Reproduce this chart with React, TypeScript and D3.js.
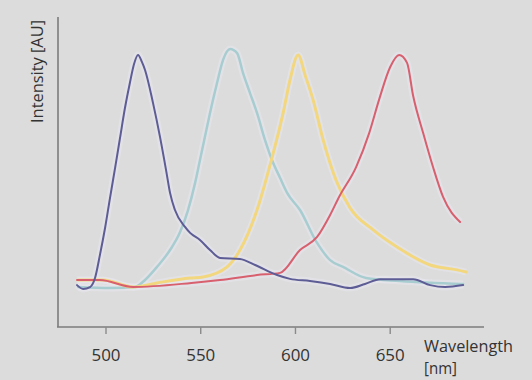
import { useEffect, useRef } from "react";
import * as d3 from "d3";

// wavelength [nm], intensity [AU]
const blueNm = [484.7, 487.9, 491.6, 494.2, 496.8, 499.5, 502.1, 504.8, 507.4, 510.0, 512.7, 514.8, 516.9, 519.0, 520.6, 524.8, 528.5, 531.7, 533.8, 536.4, 541.7, 544.4, 549.6, 554.9, 560.2, 570.7, 578.7, 590.3, 597.1, 607.7, 618.3, 628.8, 636.7, 644.7, 662.1, 671.1, 679.0, 688.5];
const blueI = [0.154, 0.140, 0.147, 0.180, 0.265, 0.364, 0.474, 0.585, 0.695, 0.805, 0.901, 0.967, 1.0, 0.974, 0.945, 0.824, 0.699, 0.577, 0.493, 0.430, 0.368, 0.346, 0.320, 0.283, 0.254, 0.250, 0.228, 0.191, 0.177, 0.169, 0.158, 0.143, 0.158, 0.176, 0.176, 0.154, 0.147, 0.154];

const tealNm = [485.2, 502.1, 515.3, 520.6, 526.9, 533.8, 539.1, 543.3, 547.0, 549.6, 552.3, 554.9, 558.6, 561.8, 565.5, 569.2, 572.3, 576.0, 579.7, 583.9, 587.6, 591.9, 595.6, 602.4, 611.4, 618.3, 625.1, 637.3, 655.2, 688.5];
const tealI = [0.147, 0.143, 0.147, 0.173, 0.221, 0.283, 0.349, 0.430, 0.529, 0.614, 0.702, 0.787, 0.897, 0.982, 1.022, 1.007, 0.934, 0.860, 0.787, 0.688, 0.614, 0.548, 0.493, 0.430, 0.309, 0.246, 0.221, 0.180, 0.169, 0.158];

const yellowNm = [485.2, 498.4, 514.3, 526.9, 544.4, 551.2, 563.9, 570.7, 579.7, 586.6, 593.5, 597.1, 601.4, 605.1, 609.3, 614.6, 621.4, 628.8, 641.0, 653.6, 671.1, 685.3, 690.1];
const yellowI = [0.173, 0.173, 0.147, 0.162, 0.180, 0.184, 0.221, 0.283, 0.430, 0.596, 0.787, 0.908, 1.0, 0.926, 0.835, 0.688, 0.540, 0.438, 0.357, 0.294, 0.228, 0.210, 0.202];

const redNm = [484.7, 496.8, 514.3, 545.1, 560.2, 579.7, 591.9, 602.4, 611.4, 618.3, 623.0, 632.0, 638.9, 644.1, 650.0, 654.7, 658.9, 662.1, 667.4, 672.6, 677.9, 686.9];
const redI = [0.173, 0.173, 0.147, 0.162, 0.173, 0.191, 0.199, 0.283, 0.331, 0.412, 0.478, 0.588, 0.713, 0.835, 0.956, 1.0, 0.971, 0.850, 0.713, 0.588, 0.478, 0.386];

const xTicks = [500, 550, 600, 650];

const series = [
  { nm: tealNm, val: tealI, color: "#a8cdd1", w: 2.5 },
  { nm: yellowNm, val: yellowI, color: "#f3d77e", w: 3 },
  { nm: redNm, val: redI, color: "#d8606e", w: 2 },
  { nm: blueNm, val: blueI, color: "#5d5c95", w: 2 },
];

export default function App() {
  const svgRef = useRef<SVGSVGElement>(null);

  useEffect(() => {
    const svg = d3.select(svgRef.current);
    svg.selectAll("*").remove();

    const x = d3.scaleLinear().domain([500, 650]).range([106, 390.2]);
    const y = d3.scaleLinear().domain([0, 1]).range([327, 55]);

    svg.append("rect").attr("width", 532).attr("height", 380).attr("fill", "#dcdcdc");

    const line = d3
      .line<[number, number]>()
      .x((d) => x(d[0]))
      .y((d) => y(d[1]))
      .curve(d3.curveMonotoneX);

    const g = svg.append("g");
    series.forEach((s) => {
      const pts = s.nm.map((n, i) => [n, s.val[i]] as [number, number]);
      // faint glow around each trace
      g.append("path")
        .attr("d", line(pts))
        .attr("fill", "none")
        .attr("stroke", "#e6e6ec")
        .attr("stroke-opacity", 0.6)
        .attr("stroke-width", 7)
        .attr("stroke-linejoin", "round");
    });
    series.forEach((s) => {
      const pts = s.nm.map((n, i) => [n, s.val[i]] as [number, number]);
      g.append("path")
        .attr("d", line(pts))
        .attr("fill", "none")
        .attr("stroke", s.color)
        .attr("stroke-width", s.w)
        .attr("stroke-linejoin", "round")
        .attr("stroke-linecap", "round");
    });

    // axes
    svg.append("line").attr("x1", 58).attr("x2", 58).attr("y1", 17).attr("y2", 327)
      .attr("stroke", "#7c7c7c").attr("stroke-width", 1.6);
    svg.append("line").attr("x1", 57).attr("x2", 484).attr("y1", 327).attr("y2", 327)
      .attr("stroke", "#7c7c7c").attr("stroke-width", 1.6);

    const ticks = svg.append("g").selectAll("g").data(xTicks).join("g")
      .attr("transform", (d) => `translate(${x(d)},0)`);
    ticks.append("line").attr("y1", 327).attr("y2", 334)
      .attr("stroke", "#8a8a8a").attr("stroke-width", 1.4);
    ticks.append("text")
      .attr("y", 361)
      .attr("text-anchor", "middle")
      .attr("textLength", 29)
      .attr("lengthAdjust", "spacingAndGlyphs")
      .text((d) => d);

    svg.append("text").attr("x", 424).attr("y", 352)
      .attr("textLength", 89).attr("lengthAdjust", "spacingAndGlyphs")
      .text("Wavelength");
    svg.append("text").attr("x", 424).attr("y", 374)
      .attr("textLength", 33).attr("lengthAdjust", "spacingAndGlyphs")
      .text("[nm]");

    svg.append("text")
      .attr("transform", "translate(43,20) rotate(-90)")
      .attr("text-anchor", "end")
      .attr("textLength", 103).attr("lengthAdjust", "spacingAndGlyphs")
      .text("Intensity [AU]");

    svg.selectAll("text")
      .attr("font-family", "'Open Sans', sans-serif")
      .attr("font-size", 17)
      .attr("fill", "#333333");
  }, []);

  return (
    <svg
      ref={svgRef}
      width={532}
      height={380}
      style={{ position: "absolute", left: 0, top: 0 }}
    />
  );
}
